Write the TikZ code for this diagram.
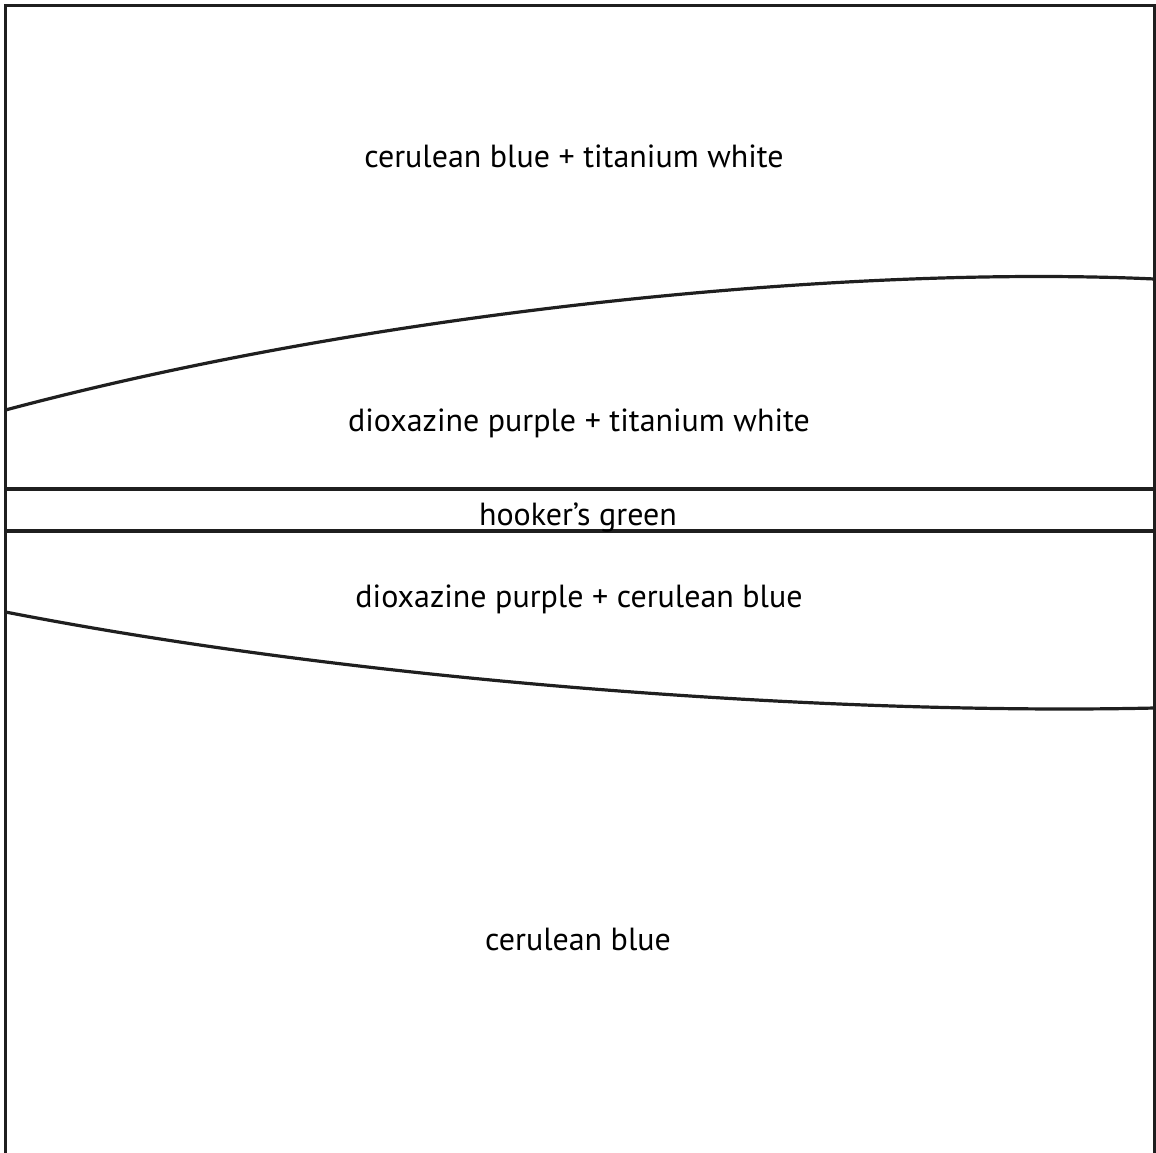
\documentclass[tikz,border=0pt]{standalone}
\usepackage{fontspec}
\setmainfont{PT Sans}
\usetikzlibrary{positioning}

\begin{document}
\begin{tikzpicture}[
  x=1pt, y=-1pt,
  band/.style={
    draw=black!88,
    line width=3.2pt
  },
  paint/.style={
    anchor=base,
    inner sep=0pt,
    font=\fontsize{32}{38}\selectfont
  }
]

% Canvas
\useasboundingbox (0,0) rectangle (1156,1153);

% Outline (open at the bottom)
\draw[band] (5.5,1153) -- (5.5,5.5) -- (1154.5,5.5) -- (1154.5,1153);

% Boundaries between colours
\draw[band] (5.5,410) .. controls (380,310) and (850,265) .. (1154.5,279);
\draw[band] (5.5,489) -- (1154.5,489);
\draw[band] (5.5,531) -- (1154.5,531);
\draw[band] (5.5,612) .. controls (380,685) and (850,715) .. (1154.5,708);

% Labels
\node[paint] (cerwhite)  at (574,167) {cerulean blue + titanium white};
\node[paint] (purwhite)  at (579,431) {dioxazine purple + titanium white};
\node[paint] (green)     at (578,525) {hooker’s green};
\node[paint] (purcer)    at (579,607) {dioxazine purple + cerulean blue};
\node[paint] (cerulean)  at (578,950) {cerulean blue};

\end{tikzpicture}
\end{document}
